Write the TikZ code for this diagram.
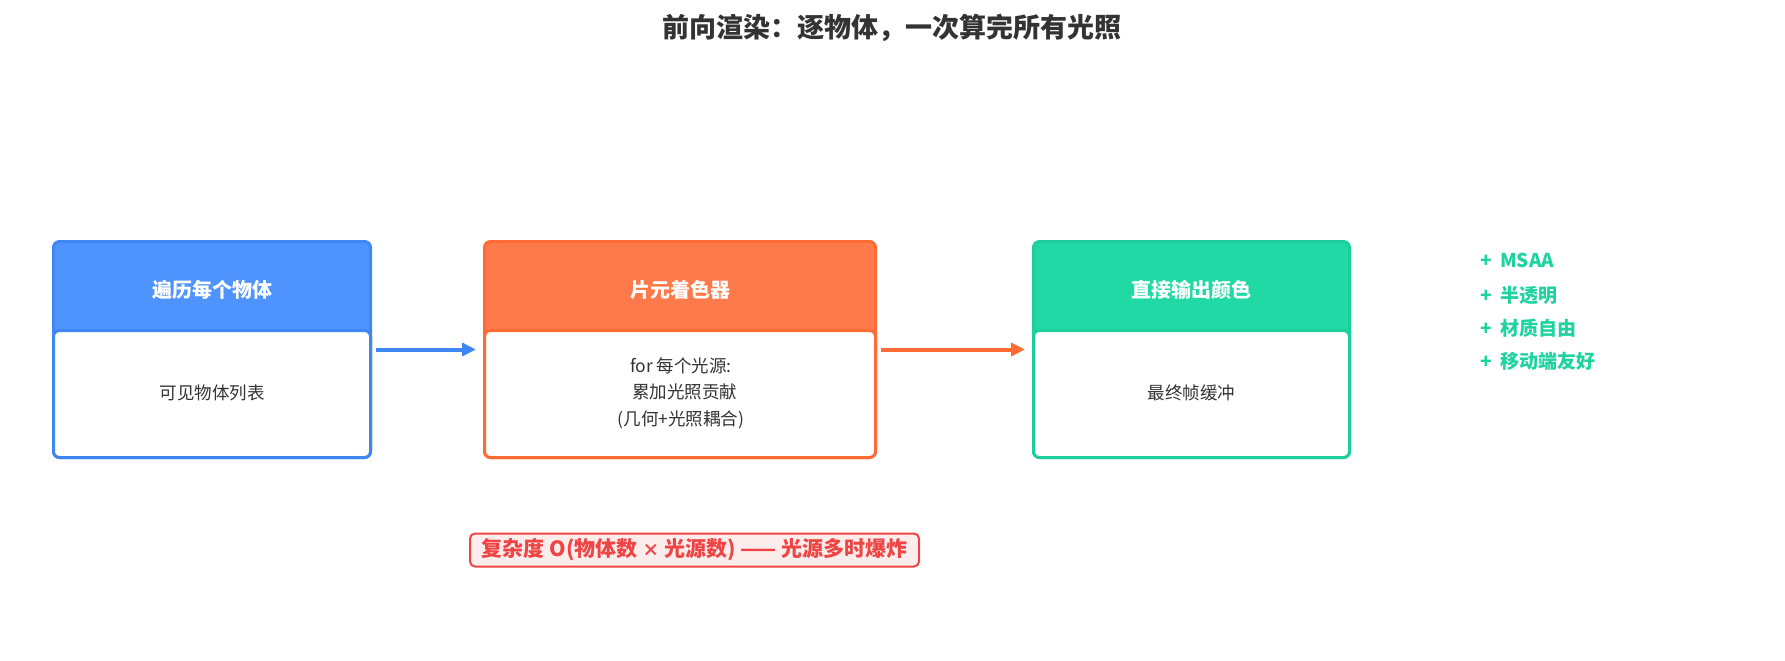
\documentclass[tikz,border=0pt]{standalone}
\usepackage{fontspec}
\setmainfont{Noto Sans CJK SC}
\usetikzlibrary{arrows.meta}
\definecolor{blueF}{HTML}{4F93FF}
\definecolor{blueB}{HTML}{3F86F5}
\definecolor{orangeF}{HTML}{FF7A4A}
\definecolor{orangeB}{HTML}{FF6B35}
\definecolor{greenF}{HTML}{20D9A5}
\definecolor{greenB}{HTML}{1CCF9C}
\definecolor{greenT}{HTML}{1ED39F}
\definecolor{darkT}{HTML}{333333}
\definecolor{redB}{HTML}{EF4444}
\definecolor{redF}{HTML}{FDECEC}
\tikzset{
  outerbox/.style={rectangle, rounded corners=6pt, line width=3pt, minimum width=#1, minimum height=216pt, inner sep=0pt},
  bodybox/.style={rectangle, rounded corners=6pt, line width=3pt, fill=white, minimum width=#1, minimum height=127pt, inner sep=0pt},
  headtext/.style={text=white, font=\fontsize{20}{24}\selectfont\bfseries, inner sep=0pt},
  bodytext/.style={text=darkT, font=\fontsize{17.5}{26.5}\selectfont, align=center, inner sep=0pt},
  flow/.style={line width=4pt, -{Triangle[length=14pt,width=13pt]}, shorten <=4pt, shorten >=7pt},
  plus/.style={text=greenT, font=\fontsize{19}{22}\selectfont\bfseries, anchor=west, inner sep=0pt},
}
\begin{document}
\begin{tikzpicture}[x=1pt,y=-1pt]
\useasboundingbox (0,0) rectangle (1785,661);
% title
\node[text=darkT, font=\fontsize{27}{32}\selectfont\bfseries] (title) at (892,28) {前向渲染：逐物体，一次算完所有光照};
% box 1
\node[outerbox=317pt, fill=blueF, draw=blueB] (box1) at (212,349.5) {};
\node[bodybox=317pt, draw=blueB] (body1) at (212,394) {};
\node[headtext] (head1) at (212,290) {遍历每个物体};
\node[bodytext] (txt1) at (212,393) {可见物体列表};
% box 2
\node[outerbox=391pt, fill=orangeF, draw=orangeB] (box2) at (680,349.5) {};
\node[bodybox=391pt, draw=orangeB] (body2) at (680,394) {};
\node[headtext] (head2) at (680,290) {片元着色器};
\node[bodytext] (txt2) at (681,393) {for 每个光源:\\\ \ 累加光照贡献\\(几何+光照耦合)};
% box 3
\node[outerbox=316pt, fill=greenF, draw=greenB] (box3) at (1191.5,349.5) {};
\node[bodybox=316pt, draw=greenB] (body3) at (1191.5,394) {};
\node[headtext] (head3) at (1191.5,290) {直接输出颜色};
\node[bodytext] (txt3) at (1191.5,393) {最终帧缓冲};
% arrows
\draw[flow, blueB] (box1.east) -- (box2.west);
\draw[flow, orangeB] (box2.east) -- (box3.west);
% pros
\node[plus] (g1) at (1480,260) {+\hspace{0.45em}MSAA};
\node[plus] (g2) at (1480,295) {+\hspace{0.45em}半透明};
\node[plus] (g3) at (1480,328) {+\hspace{0.45em}材质自由};
\node[plus] (g4) at (1480,361) {+\hspace{0.45em}移动端友好};
% note
\node[rectangle, rounded corners=5pt, draw=redB, fill=redF, line width=2pt, minimum width=449pt, minimum height=33pt, inner sep=0pt, text=redB, font=\fontsize{21}{24}\selectfont\bfseries] (note) at (694.5,550) {复杂度 O(物体数 {\fontsize{17}{20}\selectfont×} 光源数) —— 光源多时爆炸};
\end{tikzpicture}
\end{document}
